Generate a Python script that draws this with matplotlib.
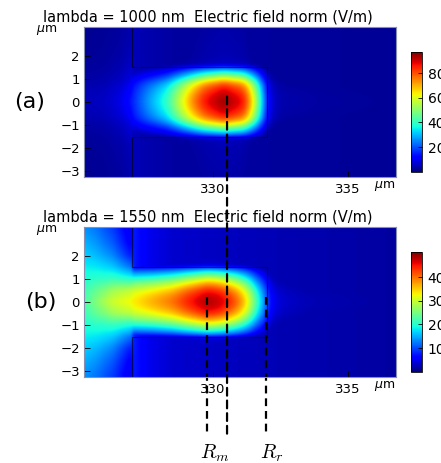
import numpy as np
import matplotlib
matplotlib.use("Agg")
import matplotlib.pyplot as plt
from matplotlib.patches import ConnectionPatch

# --- values ------------------------------------------------------------
x_range = [325.22, 336.78]
y_range = [-3.25, 3.25]
x_ticks = [330, 335]
y_ticks = [-3, -2, -1, 0, 1, 2]

# waveguide outline (um)
outline_x = [327, 327, 332, 332, 327, 327]
outline_y = [3.25, 1.5, 1.5, -1.5, -1.5, -3.25]

# (a) lambda = 1000 nm : field along y = 0
xa = [325.2, 326.0, 326.6, 327.0, 327.2, 327.7, 328.3, 328.9, 329.3, 329.7, 330.4,
      331.15, 331.5, 331.77, 331.95, 332.1, 332.5, 334.0, 336.8]
fa = [5, 6, 9, 15, 19, 29, 40, 62, 76, 87, 95, 87, 63, 38, 19, 8, 4, 3, 2]
# transverse shape inside ridge (relative)
ya_ridge = [0, 0.3, 0.6, 0.8, 1.0, 1.2, 1.4, 1.5, 1.6, 2.0, 3.3]
ra_ridge = [1.0, 0.98, 0.92, 0.83, 0.66, 0.47, 0.29, 0.18, 0.06, 0.05, 0.04]
# transverse shape in wide part x < 327
y_slab = [0, 0.5, 1.0, 1.5, 2.0, 2.5, 3.0, 3.3]
ra_slab = [1.0, 0.88, 0.65, 0.5, 0.42, 0.38, 0.35, 0.33]
# background outside ridge
x_out = [327, 327.6, 328.5, 330, 333, 336.8]
fa_out = [5, 4, 3, 3, 2.5, 2]
vmax_a = 97
cb_ticks_a = [20, 40, 60, 80]

# (b) lambda = 1550 nm
xb = [325.2, 325.7, 326.2, 326.7, 327.2, 327.7, 328.5, 329.0, 329.5, 329.8, 330.3,
      330.8, 331.1, 331.35, 331.6, 331.8, 332.0, 332.2, 332.6, 333.5, 336.8]
fb = [22, 26, 30, 32, 34, 36.5, 40, 44, 47, 48.5, 47, 42, 37, 31, 22, 17, 10, 5,
      3.5, 2.5, 1.5]
yb_ridge = [0, 0.25, 0.5, 0.75, 1.0, 1.25, 1.45, 1.55, 2.0, 3.3]
rb_ridge = [1.0, 0.98, 0.92, 0.8, 0.63, 0.43, 0.25, 0.08, 0.06, 0.04]
xb_slab = [325.2, 326.0, 326.9]
rb_slab_left = [1.0, 0.96, 0.89, 0.82, 0.75, 0.69, 0.63, 0.6]
rb_slab_mid = [1.0, 0.9, 0.72, 0.6, 0.5, 0.43, 0.38, 0.36]
rb_slab_right = [1.0, 0.91, 0.63, 0.4, 0.26, 0.2, 0.17, 0.16]
fb_out = [8, 5, 3.5, 3, 2.2, 1.5]
vmax_b = 50.5
cb_ticks_b = [10, 20, 30, 40]

# dashed markers
x_peak_a = 330.52
x_rm = 329.78
x_rr = 331.96


def smooth(v, step, sigma, axis=0):
    n = int(3 * sigma / step) + 1
    k = np.exp(-0.5 * (np.arange(-n, n + 1) * step / sigma) ** 2)
    k /= k.sum()
    v = np.moveaxis(np.asarray(v, float), axis, -1)
    pad = [(0, 0)] * (v.ndim - 1) + [(n, n)]
    vp = np.pad(v, pad, mode="edge")
    out = np.apply_along_axis(lambda r: np.convolve(r, k, mode="valid"), -1, vp)
    return np.moveaxis(out, -1, axis)


def build_field(xc, fc, yr, rr, slab_x, slab_profiles, fout):
    gx = np.linspace(x_range[0], x_range[1], 600)
    gy = np.linspace(y_range[0], y_range[1], 330)
    dx, dy = gx[1] - gx[0], gy[1] - gy[0]
    ay = np.abs(gy)
    peak = max(fc)
    f0 = smooth(np.interp(gx, xc, fc), dx, 0.12)
    ridge = smooth(np.interp(ay, yr, rr), dy, 0.07)
    slabs = [smooth(np.interp(ay, y_slab, p), dy, 0.07) for p in slab_profiles]
    out = np.interp(gx, x_out, fout)
    # transverse profile for every column
    if len(slabs) == 1:
        S = np.repeat(slabs[0][:, None], gx.size, axis=1)
    else:
        S = np.empty((gy.size, gx.size))
        stack = np.array(slabs)
        for i in range(gy.size):
            S[i] = np.interp(gx, slab_x, stack[:, i])
    P = np.where(gx[None, :] < 327, S, ridge[:, None])
    # combine x and y profiles with rounded contours
    p = np.interp(gx, [326.3, 327.8], [2.0, 2.4])[None, :]
    u2 = (-np.log(np.clip(f0 / peak, 1e-4, 1)))[None, :] ** (2 / p)
    v2 = (-np.log(np.clip(P, 1e-4, 1))) ** (2 / p)
    F = peak * np.exp(-(u2 + v2) ** (p / 2))
    F = np.where(gx[None, :] >= 327, np.maximum(F, out[None, :]), F)
    F = smooth(smooth(F, dx, 0.05, axis=1), dy, 0.04, axis=0)
    return F


Fa = build_field(xa, fa, ya_ridge, ra_ridge, [326.0], [ra_slab], fa_out)
Fb = build_field(xb, fb, yb_ridge, rb_ridge, xb_slab,
                 [rb_slab_left, rb_slab_mid, rb_slab_right], fb_out)

W, H = 441, 463
fig = plt.figure(figsize=(W / 100, H / 100), dpi=100)


def px(l, t, r, b):
    return [l / W, 1 - b / H, (r - l) / W, (b - t) / H]


def panel(F, vmax, top, title, tag, cb_ticks):
    ax = fig.add_axes(px(84, top, 396, top + 150.3))
    im = ax.imshow(F, extent=x_range + y_range, origin="lower", aspect="auto",
                   cmap="jet", vmin=0, vmax=vmax, interpolation="bilinear")
    ax.plot(outline_x, outline_y, color="black", lw=0.8, alpha=0.6)
    ax.set_xlim(x_range)
    ax.set_ylim(y_range)
    ax.set_xticks(x_ticks)
    ax.set_yticks(y_ticks)
    ax.tick_params(direction="in", length=4, labelsize=9.5, pad=3, width=0.6)
    ax.tick_params(axis="x", pad=4)
    for s in ax.spines.values():
        s.set_color("#8890b0")
        s.set_linewidth(0.8)
    ax.text(-0.119, 0.975, r"$\mu$m", transform=ax.transAxes, ha="center",
            va="center", fontsize=9)
    ax.text(0.962, -0.06, r"$\mu$m", transform=ax.transAxes, ha="center",
            va="center", fontsize=9)
    fig.text(43 / W, 1 - (top - 10) / H, title, ha="left", va="center",
             fontsize=10.5)
    ax.text(tag[1], 0, tag[0], transform=ax.get_yaxis_transform(),
            ha="center", va="center", fontsize=16)
    cax = fig.add_axes(px(411, top + 25.5, 422, top + 145))
    cb = fig.colorbar(im, cax=cax, ticks=cb_ticks)
    cb.ax.tick_params(direction="in", length=3, labelsize=10, pad=4, width=0.6)
    cb.outline.set_linewidth(0.6)
    return ax


ax_a = panel(Fa, vmax_a, 26.7, "lambda = 1000 nm  Electric field norm (V/m)",
             ("(a)", -0.175), cb_ticks_a)
ax_b = panel(Fb, vmax_b, 226.7, "lambda = 1550 nm  Electric field norm (V/m)",
             ("(b)", -0.14), cb_ticks_b)

dash = dict(color="black", lw=1.6, linestyle=(0, (3.5, 2.2)))
con = ConnectionPatch(xyA=(x_peak_a, 0.23), coordsA=ax_a.transData,
                      xyB=(x_peak_a, -5.85), coordsB=ax_b.transData, **dash)
fig.add_artist(con)
for xv in [x_rm, x_rr]:
    ax_b.plot([xv, xv], [0.22, -5.75], clip_on=False, **dash)

ax_b.text(330.07, -6.1, r"$R_m$", ha="center", va="top", fontsize=14.5,
          math_fontfamily="cm", clip_on=False)
ax_b.text(332.18, -6.1, r"$R_r$", ha="center", va="top", fontsize=14.5,
          math_fontfamily="cm", clip_on=False)

fig.savefig("out.png", dpi=100)
